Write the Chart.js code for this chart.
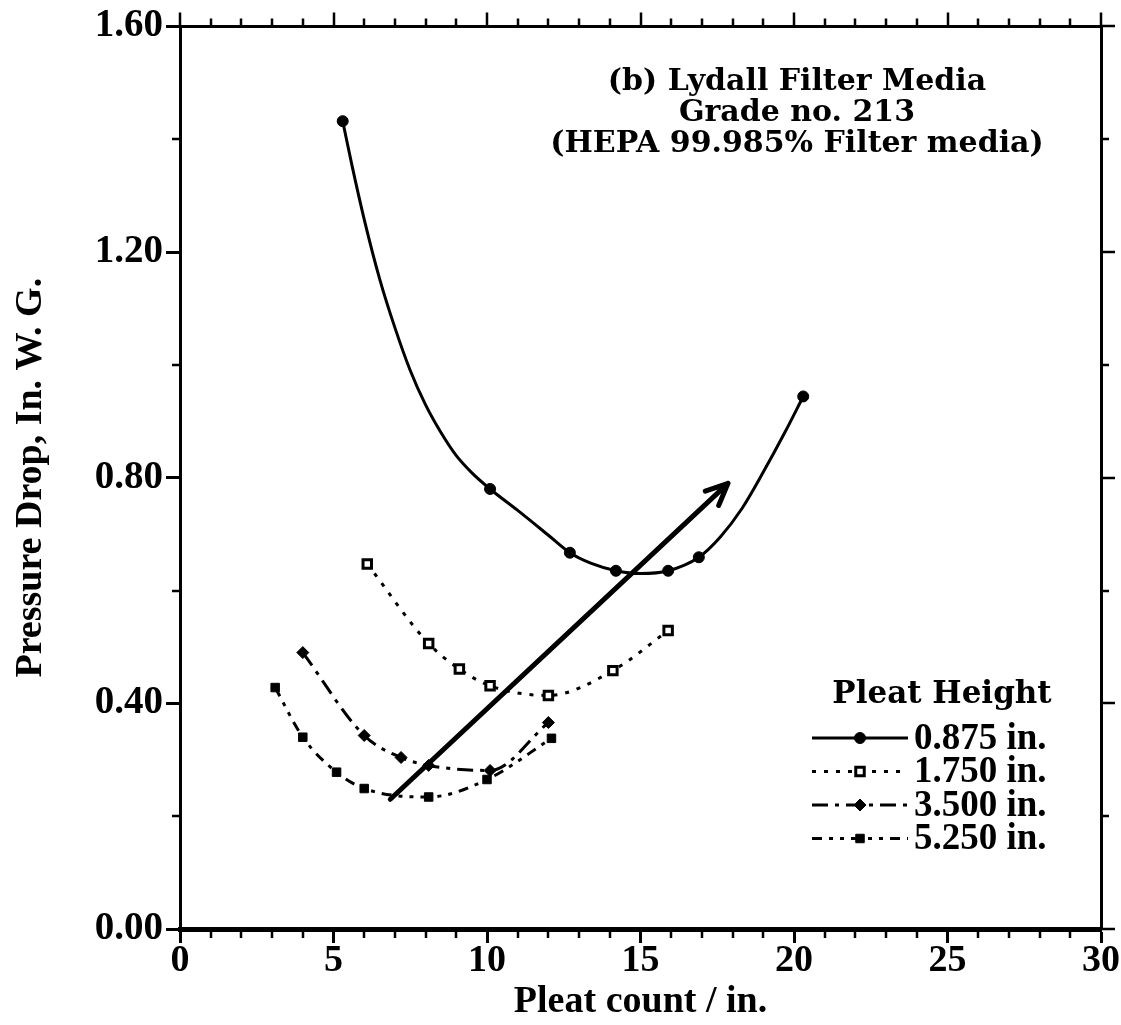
<!DOCTYPE html>
<html>
<head>
<meta charset="utf-8">
<title>Pressure drop vs pleat count</title>
<script src="https://cdn.jsdelivr.net/npm/chart.js@4.4.1/dist/chart.umd.min.js"></script>
<style>
    html, body { margin: 0; padding: 0; background: #fff; }
    canvas { display: block; }
</style>
</head>
<body>
<canvas id="chart" width="1121" height="1025"></canvas>
<script>
// ---- Data ----

const pleatHeights = ['0.875 in.', '1.750 in.', '3.500 in.', '5.250 in.'];

// measured points (markers)
const countH0875 = [5.3, 10.1, 12.7, 14.2, 15.9, 16.9, 20.3];
const dropH0875  = [1.432, 0.780, 0.667, 0.635, 0.635, 0.659, 0.944];

// fitted curve of the 0.875 in. series
const curveCountH0875 = [5.3, 5.6, 6.0, 6.5, 7.0, 7.5, 8.0, 8.5, 9.0, 9.5, 10.1, 11.0, 12.0, 12.7, 13.4, 14.2, 15.0, 15.9, 16.9, 17.6, 18.3, 19.0, 19.7, 20.3];
const curveDropH0875  = [1.432, 1.354, 1.258, 1.153, 1.066, 0.990, 0.929, 0.880, 0.839, 0.809, 0.780, 0.742, 0.698, 0.667, 0.648, 0.635, 0.630, 0.635, 0.659, 0.695, 0.745, 0.810, 0.880, 0.944];

const countH1750 = [6.1, 8.1, 9.1, 10.1, 12.0, 14.1, 15.9];
const dropH1750  = [0.647, 0.506, 0.461, 0.431, 0.414, 0.458, 0.529];

const countH3500 = [4.0, 6.0, 7.2, 8.1, 10.1, 12.0];
const dropH3500  = [0.490, 0.343, 0.304, 0.290, 0.281, 0.366];

const countH5250 = [3.1, 4.0, 5.1, 6.0, 8.1, 10.0, 12.1];
const dropH5250  = [0.428, 0.340, 0.278, 0.249, 0.234, 0.265, 0.338];

const xRange = [0, 30];
const yRange = [0, 1.6];
const xMajorStep = 5;
const xMinorStep = 1;
const yMajorStep = 0.4;
const yMinorStep = 0.2;

const titleLines = ['(b) Lydall Filter Media', 'Grade no. 213', '(HEPA 99.985% Filter media)'];
const legendTitle = 'Pleat Height';

// trend arrow, [pleat count, pressure drop]
const arrowFrom = [6.85, 0.23];
const arrowTo = [17.85, 0.79];

// ---- Helpers ----

function toPoints(xs, ys) {
    return xs.map((x, i) => ({ x: x, y: ys[i] }));
}

const SERIF = "'Liberation Serif', 'Times New Roman', serif";
const WIDE_SERIF = "'DejaVu Serif', serif";

// ---- Plugins ----

// minor ticks + ticks on the top and right frame
const frameTicks = {
    id: 'frameTicks',
    afterDraw(chart) {
        const { ctx, chartArea: a } = chart;
        const x = chart.scales.x, y = chart.scales.y;
        ctx.save();
        ctx.strokeStyle = '#000';
        ctx.lineWidth = 2.5;
        ctx.beginPath();
        for (let v = xRange[0]; v <= xRange[1] + 1e-9; v += xMinorStep) {
            const px = Math.round(x.getPixelForValue(v));
            const major = Math.abs(v % xMajorStep) < 1e-9;
            if (!major) {
                ctx.moveTo(px, a.bottom);
                ctx.lineTo(px, a.bottom + 9);
            }
            ctx.moveTo(px, a.top);
            ctx.lineTo(px, a.top - (major ? 14 : 8));
        }
        const nY = Math.round((yRange[1] - yRange[0]) / yMinorStep);
        for (let i = 0; i <= nY; i++) {
            const v = yRange[0] + i * yMinorStep;
            const py = Math.round(y.getPixelForValue(v));
            const major = i % Math.round(yMajorStep / yMinorStep) === 0;
            if (!major) {
                ctx.moveTo(a.left, py);
                ctx.lineTo(a.left - 8, py);
            }
            ctx.moveTo(a.right, py);
            ctx.lineTo(a.right + (major ? 14 : 8), py);
        }
        ctx.stroke();
        ctx.restore();
    }
};

// trend arrow
const trendArrow = {
    id: 'trendArrow',
    afterDatasetsDraw(chart) {
        const { ctx } = chart;
        const x = chart.scales.x, y = chart.scales.y;
        const x0 = x.getPixelForValue(arrowFrom[0]), y0 = y.getPixelForValue(arrowFrom[1]);
        const x1 = x.getPixelForValue(arrowTo[0]), y1 = y.getPixelForValue(arrowTo[1]);
        const ang = Math.atan2(y1 - y0, x1 - x0);
        const head = 24;
        ctx.save();
        ctx.strokeStyle = '#000';
        ctx.lineWidth = 5;
        ctx.lineCap = 'round';
        ctx.lineJoin = 'round';
        ctx.beginPath();
        ctx.moveTo(x0, y0);
        ctx.lineTo(x1, y1);
        ctx.moveTo(x1 - head * Math.cos(ang - 0.42), y1 - head * Math.sin(ang - 0.42));
        ctx.lineTo(x1, y1);
        ctx.lineTo(x1 - head * Math.cos(ang + 0.42), y1 - head * Math.sin(ang + 0.42));
        ctx.stroke();
        ctx.restore();
    }
};

// caption in the upper right
const caption = {
    id: 'caption',
    afterDraw(chart) {
        const { ctx } = chart;
        ctx.save();
        ctx.fillStyle = '#000';
        ctx.font = 'bold 30px ' + WIDE_SERIF;
        ctx.textAlign = 'center';
        ctx.textBaseline = 'middle';
        titleLines.forEach((line, i) => ctx.fillText(line, 797, 82 + i * 31));
        ctx.restore();
    }
};

// legend with line sample and marker in the middle
const pleatLegend = {
    id: 'pleatLegend',
    afterDraw(chart) {
        const { ctx } = chart;
        ctx.save();
        ctx.fillStyle = '#000';
        ctx.font = 'bold 31px ' + WIDE_SERIF;
        ctx.textAlign = 'center';
        ctx.textBaseline = 'middle';
        ctx.fillText(legendTitle, 942, 695);

        chart.data.datasets.filter(ds => ds.label).forEach((ds, i) => {
            const rowY = 738 + i * 33.5;
            ctx.strokeStyle = '#000';
            ctx.lineWidth = ds.borderWidth;
            ctx.setLineDash(ds.borderDash || []);
            ctx.beginPath();
            ctx.moveTo(812, rowY);
            ctx.lineTo(908, rowY);
            ctx.stroke();
            ctx.setLineDash([]);
            ctx.fillStyle = ds.markerFill;
            ctx.strokeStyle = '#000';
            ctx.lineWidth = ds.markerBorder;
            Chart.helpers.drawPoint(ctx, { pointStyle: ds.markerStyle, radius: ds.markerRadius, borderWidth: ds.markerBorder, rotation: 0 }, 860, rowY);
            ctx.fillStyle = '#000';
            ctx.font = 'bold 37px ' + SERIF;
            ctx.textAlign = 'left';
            ctx.fillText(ds.label, 914, rowY + 1);
        });
        ctx.restore();
    }
};

// ---- Chart ----

function lineSeries(label, points, style) {
    const ds = Object.assign({
        label: label,
        data: points,
        showLine: true,
        borderColor: '#000',
        borderWidth: 3,
        cubicInterpolationMode: 'monotone',
        markerStyle: 'circle',
        markerRadius: 5,
        markerFill: '#000',
        markerBorder: 1
    }, style);
    ds.pointStyle = ds.markerStyle;
    ds.pointRadius = ds.markerRadius;
    ds.pointBackgroundColor = ds.markerFill;
    ds.pointBorderColor = '#000';
    ds.pointBorderWidth = ds.markerBorder;
    ds.pointHoverRadius = ds.markerRadius;
    return ds;
}

const style0875 = { markerStyle: 'circle', markerRadius: 5.5 };

const ctx = document.getElementById('chart');

new Chart(ctx, {
    type: 'scatter',
    data: {
        datasets: [
            // fitted curve only, markers come from the next dataset
            Object.assign(lineSeries(pleatHeights[0], toPoints(curveCountH0875, curveDropH0875), style0875), { pointRadius: 0, pointHoverRadius: 0 }),
            Object.assign(lineSeries('', toPoints(countH0875, dropH0875), style0875), { showLine: false }),
            lineSeries(pleatHeights[1], toPoints(countH1750, dropH1750), { borderDash: [4, 8], markerStyle: 'rect', markerRadius: 6, markerFill: '#fff', markerBorder: 3 }),
            lineSeries(pleatHeights[2], toPoints(countH3500, dropH3500), { borderDash: [16, 7, 4, 7], markerStyle: 'rectRot', markerRadius: 6 }),
            lineSeries(pleatHeights[3], toPoints(countH5250, dropH5250), { borderDash: [10, 7, 4, 7, 4, 7], markerStyle: 'rect', markerRadius: 6 })
        ]
    },
    options: {
        responsive: false,
        animation: false,
        layout: { padding: 0 },
        plugins: {
            legend: { display: false },
            tooltip: { enabled: false }
        },
        scales: {
            x: {
                type: 'linear',
                position: 'bottom',
                min: xRange[0],
                max: xRange[1],
                afterFit: s => { s.height = 96; },
                ticks: { stepSize: xMajorStep, color: '#000', padding: -5, maxRotation: 0, font: { family: SERIF, size: 38, weight: 'bold' } },
                grid: { drawOnChartArea: false, tickLength: 14, tickWidth: 3, tickColor: '#000' },
                border: { color: '#000', width: 5 },
                title: { display: true, text: 'Pleat count / in.', color: '#000', padding: { top: 0, bottom: 0 }, font: { family: SERIF, size: 38, weight: 'bold' } }
            },
            x2: {
                type: 'linear',
                position: 'top',
                min: xRange[0],
                max: xRange[1],
                afterFit: s => { s.height = 24; },
                ticks: { display: false },
                grid: { drawOnChartArea: false, drawTicks: false },
                border: { color: '#000', width: 3 }
            },
            y: {
                type: 'linear',
                position: 'left',
                min: yRange[0],
                max: yRange[1],
                afterFit: s => { s.width = 180; },
                ticks: { stepSize: yMajorStep, color: '#000', padding: 3, callback: v => v.toFixed(2), font: { family: SERIF, size: 39, weight: 'bold' } },
                grid: { drawOnChartArea: false, tickLength: 14, tickWidth: 3, tickColor: '#000' },
                border: { color: '#000', width: 3 },
                title: { display: true, text: 'Pressure Drop, In. W. G.', color: '#000', padding: { top: 8, bottom: 0 }, font: { family: SERIF, size: 38, weight: 'bold' } }
            },
            y2: {
                type: 'linear',
                position: 'right',
                min: yRange[0],
                max: yRange[1],
                afterFit: s => { s.width = 20; },
                ticks: { display: false },
                grid: { drawOnChartArea: false, drawTicks: false },
                border: { color: '#000', width: 3 }
            }
        }
    },
    plugins: [frameTicks, trendArrow, caption, pleatLegend]
});
</script>
</body>
</html>
